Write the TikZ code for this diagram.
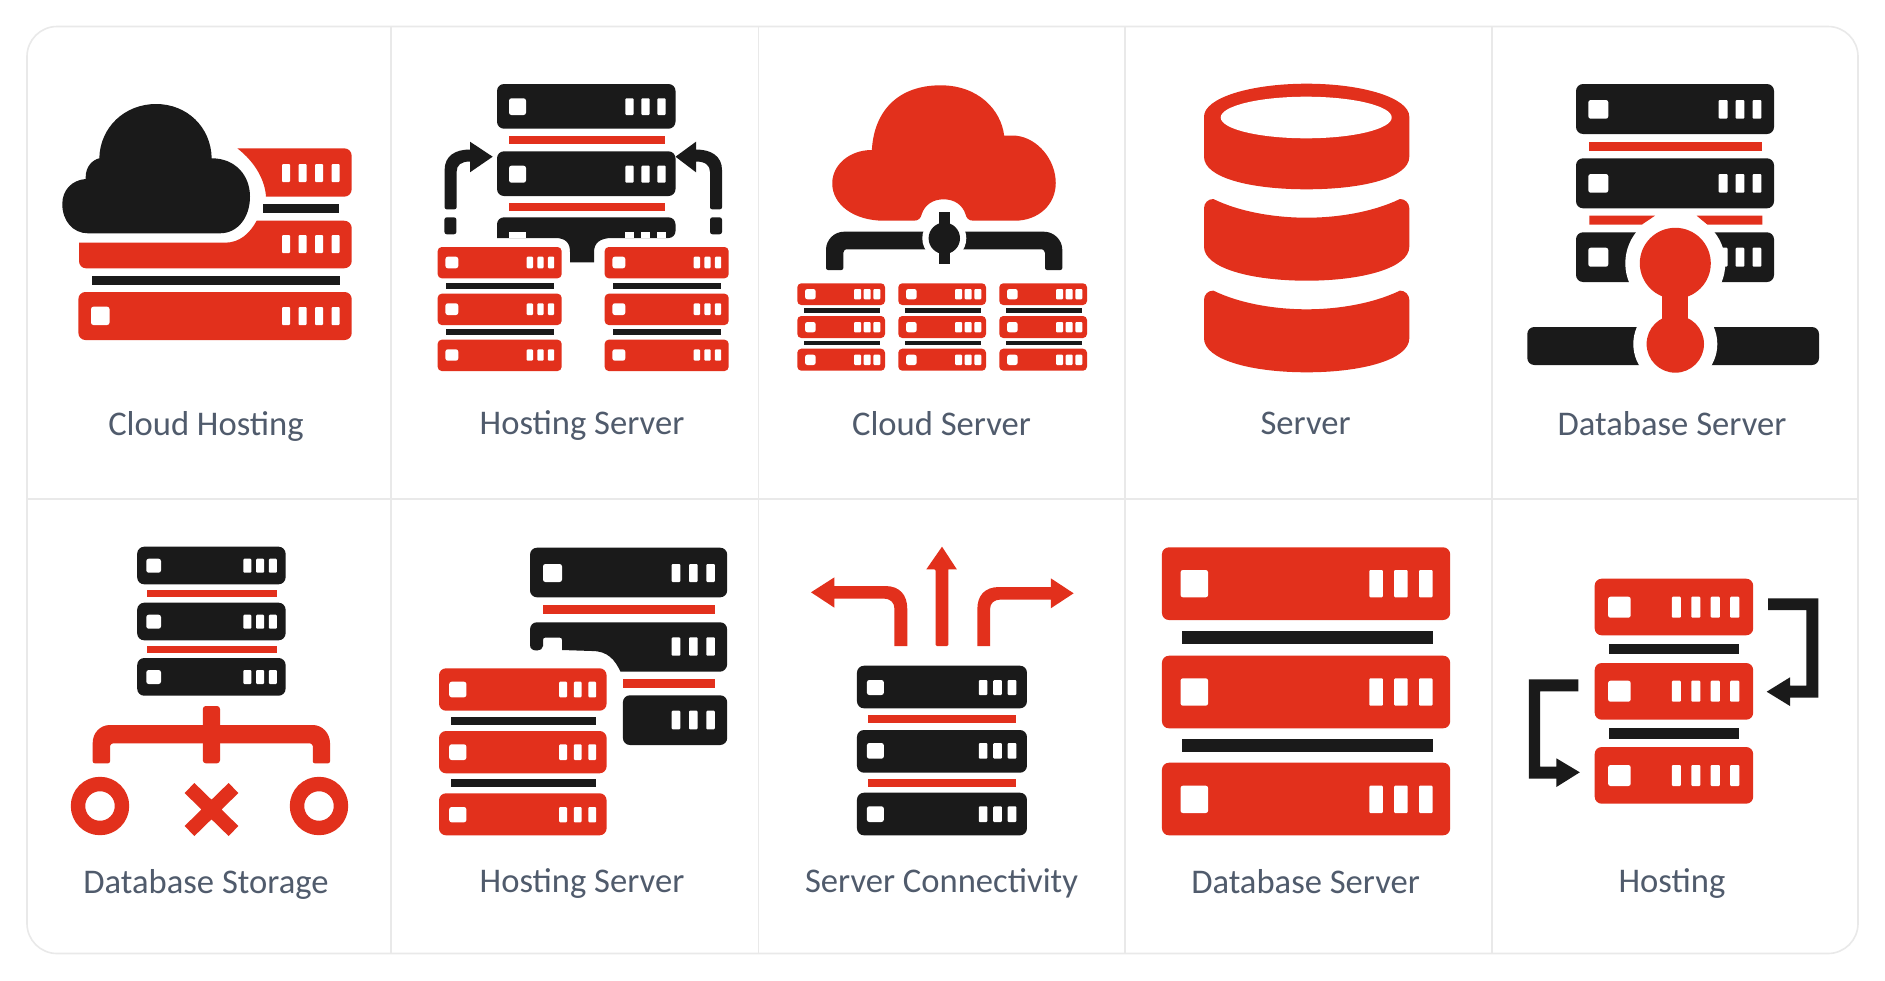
\documentclass[tikz,border=0pt]{standalone}
\usepackage{fontspec}
\setmainfont{Carlito}
\definecolor{rd}{HTML}{E2301C}
\definecolor{ink}{HTML}{1A1A1A}
\definecolor{txt}{HTML}{505B6C}
\definecolor{grid}{HTML}{E9E9E9}
% body: colour,x0,y0,x1,y1
\newcommand\srv[5]{\fill[#1,rounded corners=3.5pt] (#2,#3) rectangle (#4,#5);}
\newcommand\srvs[5]{\fill[#1,rounded corners=2pt] (#2,#3) rectangle (#4,#5);}
\newcommand\sepbar[5]{\fill[#1] (#2,#3) rectangle (#4,#5);}
% square lamp: ya,yb,x0,x1
\newcommand\lampsq[4]{\fill[white,rounded corners=1.2pt] (#3,#1) rectangle (#4,#2);}
% bar lamps: ya,yb,x0,width,pitch,count
\newcommand\lampbars[6]{\foreach \k in {1,...,#6}{\fill[white,rounded corners=.5pt] ({#3+(\k-1)*#5},#1) rectangle ({#3+(\k-1)*#5+#4},#2);}}
\tikzset{lbl/.style={text=txt,font=\fontsize{17.3pt}{20pt}\selectfont,inner sep=0pt,anchor=base},
 fixx/.style={shift={(5.7,0)},xscale=0.9925}}
\begin{document}
\begin{tikzpicture}[x=0.5pt,y=-0.5pt]
\useasboundingbox (0,0) rectangle (1885,980);
\fill[white] (0,0) rectangle (1885,980);
% frame and grid
\draw[grid,line width=.7pt] (391,26.5) -- (391,953) (758.5,26.5) -- (758.5,953) (1125,26.5) -- (1125,953) (1492,26.5) -- (1492,953) (27,499) -- (1858,499);
\draw[grid,line width=.8pt,rounded corners=15pt] (27,26.5) rectangle (1858,953.5);

% ---------- 1 Cloud Hosting
\srv{rd}{78.4}{292}{351.7}{340}
\lampsq{306.7}{325}{91}{109.5}
\lampbars{307}{325}{282}{8.2}{16.5}{4}
\sepbar{ink}{91.8}{276}{339.6}{285}
\fill[rd] (79,242.7) -- (225,242.7) .. controls (240,242.7) and (250,233) .. (256.7,220.7) -- (344,220.7) .. controls (348.5,220.7) and (351.7,224) .. (351.7,228) -- (351.7,261) .. controls (351.7,265) and (348.5,268.3) .. (344,268.3) -- (86,268.3) .. controls (82,268.3) and (79,265) .. (79,261) -- cycle;
\lampbars{235}{253}{282}{8.2}{16.5}{4}
\sepbar{ink}{263.3}{204.3}{339.3}{213}
\fill[rd] (237.3,148.3) -- (344,148.3) .. controls (348.5,148.3) and (351.7,151.5) .. (351.7,156) -- (351.7,189) .. controls (351.7,193.5) and (348.5,196.7) .. (344,196.7) -- (266,196.7) .. controls (265,180) and (255,162) .. (237.3,148.3) -- cycle;
\lampbars{164}{182}{282}{8.2}{16.5}{4}
\fill[ink] (88,233.3) -- (220,233.3) .. controls (238,233.3) and (250,217) .. (250,196.7) .. controls (250,175) and (235,158.3) .. (211.7,158.3) .. controls (211,127) and (187,104) .. (156,104) .. controls (125,104) and (100,127) .. (99.3,158.3) .. controls (92,160) and (85.7,167) .. (85.7,177) -- (85.7,179) .. controls (72,180) and (62.3,190) .. (62.3,204) .. controls (62.3,221) and (73,233.3) .. (88,233.3) -- cycle;
\node[lbl] (t1) at (206,435.5) {Cloud Hosting};

% ---------- 2 Hosting Server
\srv{ink}{497}{84}{675.5}{128.7}
\lampsq{98.3}{115}{509}{526}
\lampbars{98.3}{115}{625.3}{8.4}{16}{3}
\sepbar{rd}{509}{136}{665}{144}
\srv{ink}{497}{151.3}{675.5}{196}
\lampsq{165.7}{182.7}{509}{526}
\lampbars{165.7}{182.7}{625.3}{8.4}{16}{3}
\sepbar{rd}{509}{202.7}{665}{210.7}
\fill[ink,rounded corners=3.5pt] (497,238) -- (497,217.3) -- (675.5,217.3) -- (675.5,238) [sharp corners] -- (612,238) .. controls (600,238) and (594,243) .. (594,252) -- (594,262.3) -- (570,262.3) -- (570,252) .. controls (570,243) and (566,238) .. (555,238) -- cycle;
\fill[white] (509,231.7) rectangle (526,238);
\foreach \k in {0,1,2}{\fill[white] ({625.3+\k*16},231.7) rectangle ({633.7+\k*16},238);}
\foreach \dx in {0,167}{
 \begin{scope}[xshift=\dx*0.5pt]
 \srvs{rd}{437.7}{247}{561.6}{278.3}
 \srvs{rd}{437.7}{293.7}{561.6}{325}
 \srvs{rd}{437.7}{339.7}{561.6}{371}
 \sepbar{ink}{445.8}{282.7}{554}{288.7}
 \sepbar{ink}{445.8}{329.3}{554}{335.3}
 \foreach \ya/\yb in {256.7/268.3,303.3/315,349.3/360.7}{
  \lampsq{\ya}{\yb}{445.4}{458.3}
  \lampbars{\ya}{\yb}{526.7}{6.3}{10.6}{3}}
 \end{scope}}
% arrows
\fill[ink,rounded corners=1pt] (444.6,209.3) -- (444.6,172) [sharp corners] .. controls (444.6,156) and (455,149.5) .. (470,149.5) -- (470,141.7) -- (492.7,156.7) -- (470,172.3) -- (470,161.5) .. controls (461,161.5) and (456.6,165) .. (456.6,172) [rounded corners=1pt] -- (456.6,209.3) -- cycle;
\fill[ink,rounded corners=1.2pt] (444.4,217.3) rectangle (456.4,234.3);
\fill[ink,rounded corners=1pt] (722,209.3) -- (722,172) [sharp corners] .. controls (722,156) and (711,149.5) .. (696,149.5) -- (696,141.7) -- (675.5,156.7) -- (696,172.3) -- (696,161.5) .. controls (705,161.5) and (710,165) .. (710,172) [rounded corners=1pt] -- (710,209.3) -- cycle;
\fill[ink,rounded corners=1.2pt] (710,217.3) rectangle (722,234.3);
\node[lbl] (t2) at (582,434.5) {Hosting Server};

% ---------- 3 Cloud Server
\begin{scope}[fixx]
\fill[rd] (884.8,220.7) .. controls (855,220.7) and (832.8,205) .. (832.8,183.3) .. controls (832.8,165) and (850,150) .. (872.7,150) .. controls (875,110) and (900,85.3) .. (942,85.3) .. controls (980,85.3) and (1003,110) .. (1006,135.7) -- (1018,135.7) .. controls (1040,138) and (1058,160) .. (1058,183) .. controls (1058,205) and (1040,220.7) .. (1016.8,220.7) -- (975,220.7) .. controls (970,220.7) and (968,218) .. (967,214) .. controls (964,205) and (956,199.3) .. (945,199.3) .. controls (934,199.3) and (926,205) .. (923,214) .. controls (922,218) and (920,220.7) .. (915,220.7) -- cycle;
\end{scope}
\fill[ink,rounded corners=1pt] (826,270) -- (826,251.7) .. controls (826,240) and (834,231.7) .. (846,231.7) -- (1042,231.7) .. controls (1054,231.7) and (1062.3,240) .. (1062.3,251.7) -- (1062.3,270) -- (1045,270) -- (1045,255) .. controls (1045,251) and (1043,249.3) .. (1040,249.3) -- (848,249.3) .. controls (845,249.3) and (843.3,251) .. (843.3,255) -- (843.3,270) -- cycle;
\fill[white] (944.3,238.3) circle [radius=22];
\fill[ink] (944.3,238.3) circle [radius=15.7];
\fill[ink] (938.7,212.3) rectangle (950,264);
\foreach \dx in {0,101,202}{
 \begin{scope}[xshift=\dx*0.5pt]
 \foreach \ya/\yb in {283.3/305,316/338,348.7/370.7}{
  \srvs{rd}{797.3}{\ya}{885}{\yb}}
 \sepbar{ink}{803.7}{308.3}{880}{312.7}
 \sepbar{ink}{803.7}{341.3}{880}{345.3}
 \foreach \ya/\yb in {289/299.3,322/332.3,354.7/365}{
  \lampsq{\ya}{\yb}{805}{815.7}
  \lampbars{\ya}{\yb}{854}{7}{9.7}{3}}
 \end{scope}}
\node[lbl] (t3) at (941.5,435.5) {Cloud Server};

% ---------- 4 Server (cylinder)
\fill[rd] (1204,116.7) .. controls (1204,98) and (1250,83.7) .. (1306.7,83.7) .. controls (1363,83.7) and (1409.3,98) .. (1409.3,116.7) -- (1409.3,156.7) .. controls (1409.3,178) and (1362,189.3) .. (1306.7,189.3) .. controls (1251,189.3) and (1204,178) .. (1204,156.7) -- cycle;
\fill[white] (1306.2,117.5) ellipse [x radius=85.5,y radius=20.8];
\foreach \dy in {0,91.6}{
 \begin{scope}[yshift=-\dy*0.5pt]
 \fill[rd] (1213.3,199) .. controls (1240,212) and (1275,217.7) .. (1306.7,217.7) .. controls (1338,217.7) and (1373,212) .. (1400,199) .. controls (1405,199) and (1409.3,203) .. (1409.3,208.3) -- (1409.3,246.7) .. controls (1409.3,268) and (1362,280.7) .. (1306.7,280.7) .. controls (1251,280.7) and (1204,268) .. (1204,246.7) -- (1204,208.3) .. controls (1204,203) and (1208,199) .. (1213.3,199) -- cycle;
 \end{scope}}
\node[lbl] (t4) at (1305.6,434.5) {Server};

% ---------- 5 Database Server
\srv{ink}{1576}{84}{1774}{134}
\srv{ink}{1576}{158.3}{1774}{208.3}
\srv{ink}{1576}{232.3}{1774}{282}
\foreach \ya/\yb in {100/118.7,174/192.7,247.7/266.7}{
 \lampsq{\ya}{\yb}{1588.3}{1608.3}
 \lampbars{\ya}{\yb}{1718.7}{8.8}{16.9}{3}}
\sepbar{rd}{1589.3}{141.7}{1762.3}{150.7}
\fill[rd] (1589.3,215.7) -- (1655,215.7) -- (1641.7,224.7) -- (1589.3,224.7) -- cycle;
\fill[rd] (1696.7,215.7) -- (1762.3,215.7) -- (1762.3,224.7) -- (1707.3,224.7) -- cycle;
\fill[ink,rounded corners=3.5pt] (1527.3,327) rectangle (1819,365);
\fill[white] (1675.3,263.3) circle [radius=50];
\fill[white] (1675.3,344) circle [radius=42];
\fill[rd] (1675.3,263.3) circle [radius=35.5];
\fill[rd] (1675.3,344) circle [radius=28.7];
\fill[rd] (1662.3,285) rectangle (1688.3,325);
\node[lbl] (t5) at (1672,435.5) {Database Server};

% ---------- 6 Database Storage
\foreach \ya/\yb/\la/\lb in {546.7/584.3/558.7/572.7,602.7/640.3/614.7/628.7,658/695.7/670/684}{
 \srv{ink}{137.2}{\ya}{285.6}{\yb}
 \lampsq{\la}{\lb}{146.3}{161}
 \lampbars{\la}{\lb}{243.4}{8}{12.7}{3}}
\sepbar{rd}{146.8}{590}{276.5}{597.3}
\sepbar{rd}{146.8}{645.7}{276.5}{652.7}
\fill[rd,rounded corners=1.5pt] (202.8,763.3) rectangle (220,706);
\fill[rd,rounded corners=1pt] (92.7,763.3) -- (92.7,745) .. controls (92.7,733) and (100,725) .. (112,725) -- (311,725) .. controls (322,725) and (330,733) .. (330,745) -- (330,763.3) -- (312.8,763.3) -- (312.8,748) .. controls (312.8,745) and (311,743.3) .. (308,743.3) -- (115,743.3) .. controls (112,743.3) and (110,745) .. (110,748) -- (110,763.3) -- cycle;
\draw[rd,line width=7.2pt] (100,806) circle [radius=22];
\draw[rd,line width=7.2pt] (319,806) circle [radius=22];
\draw[rd,line width=7pt] (189.5,788) -- (233.5,831) (233.5,788) -- (189.5,831);
\node[lbl] (t6) at (206,893.5) {Database Storage};

% ---------- 7 Hosting Server
\srv{ink}{530}{547.7}{727.2}{597.3}
\lampsq{564}{582}{543}{562}
\lampbars{564}{582}{671.7}{8.6}{17.3}{3}
\sepbar{rd}{543.4}{605.3}{715.2}{614.3}
\fill[ink] (530,630) .. controls (530,625) and (533,622.3) .. (537,622.3) -- (720,622.3) .. controls (724,622.3) and (727.2,625) .. (727.2,630) -- (727.2,664) .. controls (727.2,668) and (724,671.7) .. (720,671.7) -- (620.5,671.7) .. controls (615,660) and (608,651) .. (592,651) -- (562,650) -- (562,640) .. controls (562,638) and (561,637.7) .. (560,637.7) -- (545,637.7) .. controls (544,637.7) and (543,638) .. (543,640) -- (543,646) .. controls (543,649) and (540,650.5) .. (537,650.5) .. controls (533,650.5) and (530,649) .. (530,645) -- cycle;
\lampbars{637.3}{655.7}{671.7}{8.6}{17.3}{3}
\sepbar{rd}{622.9}{679}{715.2}{687.7}
\srv{ink}{622.9}{695.3}{727.2}{745}
\lampbars{710.7}{729.3}{671.7}{8.6}{17.3}{3}
\foreach \ya/\yb/\la/\lb in {668.3/710.7/681.7/697.3,731/773.3/744.3/760,793.3/835.3/807/822.3}{
 \srv{rd}{439}{\ya}{606.6}{\yb}
 \lampsq{\la}{\lb}{449.2}{466.4}
 \lampbars{\la}{\lb}{559.2}{7.8}{14.6}{3}}
\sepbar{ink}{450.6}{716.7}{596}{724.7}
\sepbar{ink}{450.6}{779.3}{596}{787.3}
\node[lbl] (t7) at (582,892.5) {Hosting Server};

% ---------- 8 Server Connectivity
\begin{scope}[fixx]
\foreach \ya/\yb/\la/\lb in {665.7/708.3/680/695,730/772.7/743/758.7,792.7/835.3/806.3/822}{
 \srv{ink}{857.7}{\ya}{1029}{\yb}
 \lampsq{\la}{\lb}{867.7}{884.8}
 \lampbars{\la}{\lb}{980.4}{8.8}{14.6}{3}}
\sepbar{rd}{869}{715}{1018.2}{722.7}
\sepbar{rd}{869}{778.7}{1018.2}{786.7}
\fill[rd,rounded corners=.6pt] (937,646) -- (937,569.3) [sharp corners] -- (927.6,569.3) -- (943.4,546.7) -- (958.3,569.3) -- (949.7,569.3) [rounded corners=.6pt] -- (949.7,646) -- cycle;
\fill[rd] (895.5,646) -- (895.5,609) .. controls (895.5,602) and (891,598.5) .. (884,598.5) -- (835,598.5) -- (835,607.7) -- (811.4,592.3) -- (835,577.3) -- (835,586) -- (886,586) .. controls (901,586) and (908.4,595) .. (908.4,609) -- (908.4,646) -- cycle;
\fill[rd] (991.8,646) -- (991.8,609) .. controls (991.8,603) and (996,599.5) .. (1003,599.5) -- (1053,599.5) -- (1053,608.3) -- (1076,593.3) -- (1053,578.3) -- (1053,587) -- (1001,587) .. controls (986,587) and (979,596) .. (979,609) -- (979,646) -- cycle;
\end{scope}
\node[lbl] (t8) at (941.5,892.5) {Server Connectivity};

% ---------- 9 Database Server
\begin{scope}[fixx]
\foreach \ya/\yb/\la/\lb in {547.3/620/570/597.3,655.7/728.3/678.3/705.7,762.7/835.3/785.7/813}{
 \srv{rd}{1165}{\ya}{1455.4}{\yb}
 \lampsq{\la}{\lb}{1183.7}{1211.5}
 \lampbars{\la}{\lb}{1374}{13.6}{25}{3}}
\sepbar{ink}{1185}{631}{1438.3}{644}
\sepbar{ink}{1185}{739}{1438.3}{752}
\end{scope}
\node[lbl] (t9) at (1305.6,893.5) {Database Server};

% ---------- 10 Hosting
\begin{scope}[fixx]
\foreach \ya/\yb/\la/\lb in {578.7/635.3/596.7/617.7,663/719.7/680.7/701.7,747/803.7/765/786}{
 \srv{rd}{1601}{\ya}{1760.7}{\yb}
 \lampsq{\la}{\lb}{1614.5}{1637.3}
 \lampbars{\la}{\lb}{1678.7}{9.2}{19.6}{4}}
\sepbar{ink}{1615}{643.7}{1746.4}{654.3}
\sepbar{ink}{1615}{728}{1746.4}{738.7}
\fill[ink] (1775.7,598.3) -- (1826.3,598.3) -- (1826.3,697.7) -- (1797.8,697.7) -- (1797.8,706) -- (1774.3,691.7) -- (1797.8,677.3) -- (1797.8,685.7) -- (1814.2,685.7) -- (1814.2,610) -- (1775.7,610) -- cycle;
\fill[ink] (1584.5,679.3) -- (1534.6,679.3) -- (1534.6,778.7) -- (1562.4,778.7) -- (1562.4,787) -- (1586,772.3) -- (1562.4,758.3) -- (1562.4,766.7) -- (1546,766.7) -- (1546,691.3) -- (1584.5,691.3) -- cycle;
\end{scope}
\node[lbl] (t10) at (1672,892.5) {Hosting};
\end{tikzpicture}
\end{document}
